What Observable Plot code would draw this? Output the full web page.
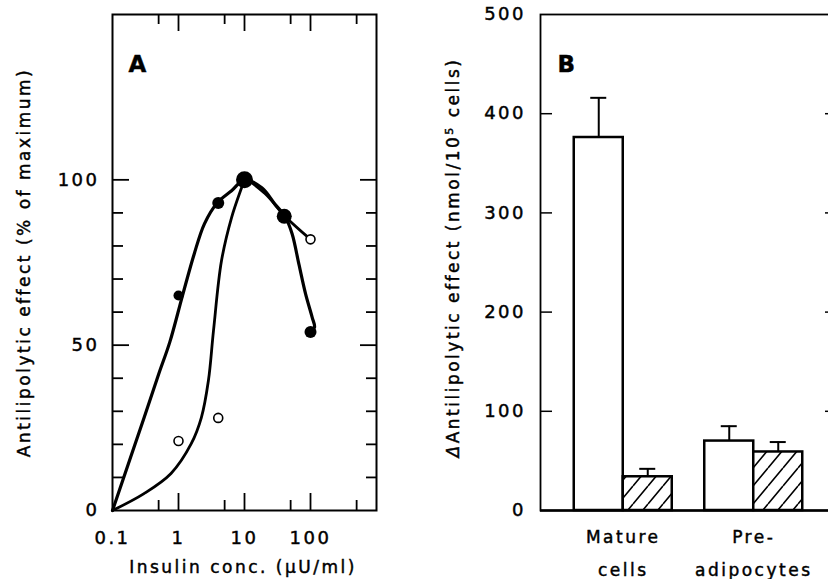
<!DOCTYPE html>
<html><head><meta charset="utf-8">
<script src="https://cdn.jsdelivr.net/npm/d3@7"></script>
<script src="https://cdn.jsdelivr.net/npm/@observablehq/plot@0.6"></script>
<style>
html,body{margin:0;padding:0;background:#fff;}
body{width:828px;height:579px;overflow:hidden;position:relative;font-family:"DejaVu Sans";}
#a{position:absolute;left:0;top:0;}
#b{position:absolute;left:408px;top:0;}
svg text{stroke:#000;stroke-width:0.45px;}
</style></head><body>
<div id="a"></div><div id="b"></div>
<script>
// ---------- Panel A data ----------
const doseA = [1, 4, 10, 40, 100];
const filledEffect = [65, 93, 100, 89, 54];
const filledSize = [5, 6, 8.5, 7.5, 6];
const openEffect = [21, 28, 100, 89, 82];
// fitted curves
const fitFilledDose = [0.1, 0.3, 0.5, 0.74, 1.15, 1.73, 2.47, 3.85, 6.37, 10, 18.3, 28.8, 41, 52.6, 66.7, 84.2, 106, 115, 100];
const fitFilledEffect = [0, 28, 41.2, 51, 65, 77.6, 86.7, 93, 96.7, 100, 97.6, 92.7, 89, 83.7, 74.5, 65.5, 58.4, 55.4, 54];
const fitOpenDose = [0.1, 0.3, 0.77, 1.56, 2.22, 2.84, 3.39, 4.48, 6.37, 9.06, 10, 20, 41, 100];
const fitOpenEffect = [0, 5.1, 11.2, 20.2, 28.1, 39.3, 54.4, 75.5, 88.6, 97.7, 100, 96, 89, 82];
const xMajorA = [1, 10, 100];
const xMinorA = [0.5, 5, 50, 500];
const xLabelTicksA = [0.1, 1, 10, 100];
const yMajorA = [50, 100];
const yMinorA = [10, 20, 30, 40, 60, 70, 80, 90];
const yLabelTicksA = [0, 50, 100];

// ---------- Panel B data ----------
const groups = ["Mature cells", "Pre-adipocytes"];
const groupLabels = ["Mature\ncells", "Pre-\nadipocytes"];
const controlMean = [376, 70];
const controlSE = [40, 15];
const treatedMean = [34, 59];
const treatedSE = [8, 10];
const yTicksB = [0, 100, 200, 300, 400, 500];
const yInnerTicksB = [100, 200, 300, 400];

const baseStyle = {fontFamily: "DejaVu Sans", fontSize: "17px", letterSpacing: "2.5px", color: "black", background: "white", maxWidth: "none", overflow: "visible"};

const filled = doseA.map((x, i) => ({x, y: filledEffect[i], r: filledSize[i]}));
const open = doseA.map((x, i) => ({x, y: openEffect[i]}));
const fitF = fitFilledDose.map((x, i) => ({x, y: fitFilledEffect[i]}));
const fitO = fitOpenDose.map((x, i) => ({x, y: fitOpenEffect[i]}));

const plotA = Plot.plot({
  width: 400, height: 579,
  marginLeft: 112, marginRight: 24, marginTop: 14, marginBottom: 69,
  style: baseStyle,
  x: {type: "log", domain: [0.1, 1000], axis: null},
  y: {domain: [0, 150], axis: null},
  r: {type: "identity"},
  marks: [
    Plot.line(fitO, {x: "x", y: "y", curve: "catmull-rom", stroke: "black", strokeWidth: 2.8}),
    Plot.line(fitF, {x: "x", y: "y", curve: "catmull-rom", stroke: "black", strokeWidth: 3.2}),
    Plot.dot(open, {x: "x", y: "y", r: 4.5, fill: "white", stroke: "black", strokeWidth: 1.6}),
    Plot.dot(filled, {x: "x", y: "y", r: "r", fill: "black"}),
    Plot.frame({stroke: "black", strokeWidth: 2}),
    Plot.axisX(xMajorA, {anchor: "bottom", tickSize: 17, dy: -17, fill: "none", strokeWidth: 1.8, label: null}),
    Plot.axisX(xMinorA, {anchor: "bottom", tickSize: 10, dy: -10, fill: "none", strokeWidth: 1.8, label: null}),
    Plot.axisX(xMajorA, {anchor: "top", tickSize: 16, dy: 16, fill: "none", strokeWidth: 1.8, label: null}),
    Plot.axisX(xMinorA, {anchor: "top", tickSize: 9, dy: 9, fill: "none", strokeWidth: 1.8, label: null}),
    Plot.axisY(yMajorA, {anchor: "left", tickSize: 17, dx: 17, fill: "none", strokeWidth: 1.8, label: null}),
    Plot.axisY(yMinorA, {anchor: "left", tickSize: 11, dx: 11, fill: "none", strokeWidth: 1.8, label: null}),
    Plot.axisY(yMajorA, {anchor: "right", tickSize: 17, dx: -17, fill: "none", strokeWidth: 1.8, label: null}),
    Plot.axisY(yMinorA, {anchor: "right", tickSize: 11, dx: -11, fill: "none", strokeWidth: 1.8, label: null}),
    Plot.axisX(xLabelTicksA, {anchor: "bottom", tickSize: 0, tickPadding: 21, tickFormat: d => String(d), fontSize: 18, label: null}),
    Plot.axisY(yLabelTicksA, {anchor: "left", tickSize: 0, tickPadding: 13, tickFormat: d => String(d), fontSize: 18, label: null}),
    Plot.text(["Antilipolytic effect (% of maximum)"], {frameAnchor: "left", textAnchor: "middle", dx: -87.5, rotate: -90, fontSize: 17}),
    Plot.text(["Insulin conc. (µU/ml)"], {frameAnchor: "bottom", dy: 62, dx: -1.5, fontSize: 17}),
    Plot.text(["A"], {frameAnchor: "top-left", dx: 16, dy: 41, fontSize: 23, fontWeight: "bold", textAnchor: "start"})
  ]
});
document.getElementById("a").append(plotA);

const rows = groups.map((g, i) => ({group: g, label: groupLabels[i], control: controlMean[i], cErr: controlSE[i], treated: treatedMean[i], tErr: treatedSE[i]}));

const plotB = Plot.plot({
  width: 440, height: 579,
  marginLeft: 132, marginRight: 12, marginTop: 14, marginBottom: 69,
  style: baseStyle,
  x: {type: "band", domain: groups, paddingInner: 0.249, paddingOuter: 0.2586, align: 0.5, round: false, axis: null},
  y: {domain: [0, 500], axis: null},
  marks: [
    Plot.barY(rows, {x: "group", y: "control", fill: "white", stroke: "black", strokeWidth: 2.5, insetRight: 49}),
    Plot.barY(rows, {x: "group", y: "treated", fill: "url(#hatch)", stroke: "black", strokeWidth: 2.5, insetLeft: 49}),
    Plot.ruleX(rows, {x: "group", y1: "control", y2: d => d.control + d.cErr, dx: -24.5, strokeWidth: 2}),
    Plot.tickY(rows, {x: "group", y: d => d.control + d.cErr, insetLeft: 16.5, insetRight: 65.5, strokeWidth: 2}),
    Plot.ruleX(rows, {x: "group", y1: "treated", y2: d => d.treated + d.tErr, dx: 24.5, strokeWidth: 2}),
    Plot.tickY(rows, {x: "group", y: d => d.treated + d.tErr, insetLeft: 65.5, insetRight: 16.5, strokeWidth: 2}),
    Plot.frame({stroke: "black", strokeWidth: 1.8}),
    Plot.ruleY([0], {stroke: "black", strokeWidth: 2.5}),
    Plot.axisY(yInnerTicksB, {anchor: "left", tickSize: 12, dx: 12, fill: "none", strokeWidth: 1.5, label: null}),
    Plot.axisY(yInnerTicksB, {anchor: "right", tickSize: 12, dx: -12, fill: "none", strokeWidth: 1.5, label: null}),
    Plot.axisY(yTicksB, {anchor: "left", tickSize: 0, tickPadding: 14.5, tickFormat: d => String(d), fontSize: 18, label: null}),
    Plot.text(rows, {x: "group", text: "label", frameAnchor: "bottom", lineAnchor: "top", dy: 9, lineHeight: 1.94, fontSize: 17}),
    Plot.text(["ΔAntilipolytic effect (nmol/10⁵ cells)"], {frameAnchor: "left", textAnchor: "middle", dx: -87, dy: -5, rotate: -90, fontSize: 17}),
    Plot.text(["B"], {frameAnchor: "top-left", dx: 17, dy: 41, fontSize: 23, fontWeight: "bold", textAnchor: "start"})
  ]
});
d3.select(plotB).insert("defs", ":first-child").html(
  '<pattern id="hatch" patternUnits="userSpaceOnUse" width="15" height="18">' +
  '<rect width="15" height="18" fill="white"/>' +
  '<path d="M-15,18L0,0M0,18L15,0M15,18L30,0" stroke="black" stroke-width="1.6" fill="none"/></pattern>'
);
// italic delta and superscript in the y label
d3.select(plotB).selectAll("text").each(function() {
  if (this.textContent.startsWith("ΔAntilipolytic")) {
    const t = d3.select(this);
    t.text("");
    t.append("tspan").attr("font-style", "italic").text("Δ");
    t.append("tspan").text("Antilipolytic effect (nmol/10");
    t.append("tspan").attr("baseline-shift", "super").attr("font-size", "11px").text("5");
    t.append("tspan").text(" cells)");
  }
});
document.getElementById("b").append(plotB);
</script>
</body></html>
